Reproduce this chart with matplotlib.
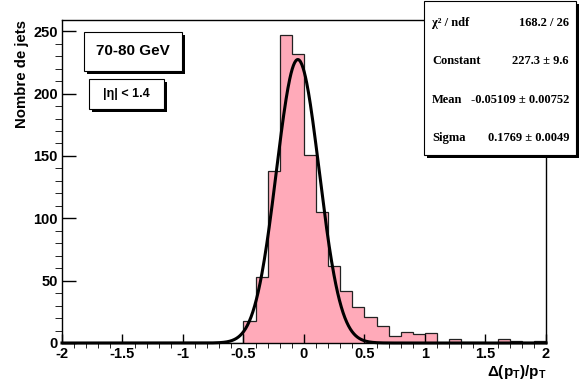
"""Resolution histogram with gaussian fit, ROOT style."""
import matplotlib
matplotlib.use("Agg")
import matplotlib.pyplot as plt
import numpy as np
from matplotlib.patches import Rectangle

plt.rcParams['mathtext.fontset'] = 'custom'
plt.rcParams['mathtext.bf'] = 'Liberation Sans:bold'
plt.rcParams['mathtext.default'] = 'bf'

# data
bin_edges = np.linspace(-2, 2, 41)
counts = [0, 0, 0, 0, 0, 0, 0, 0, 0, 0,
          0, 0, 0, 0, 0, 18, 53, 138, 247, 232,
          151, 105, 62, 42, 29, 21, 14, 6, 9, 7,
          8, 0, 3, 1, 1, 0, 3, 2, 1, 2]
fit_const, fit_mean, fit_sigma = 227.3, -0.05109, 0.1769
stat_labels = ['\u03c7\u00b2 / ndf', 'Constant', 'Mean', 'Sigma']
stat_values = ['168.2 / 26', '227.3 \u00b1 9.6', '-0.05109 \u00b1 0.00752',
               '0.1769 \u00b1 0.0049']
xticks = [-2, -1.5, -1, -0.5, 0, 0.5, 1, 1.5, 2]
xtick_labels = ['-2', '-1.5', '-1', '-0.5', '0', '0.5', '1', '1.5', '2']
yticks = [0, 50, 100, 150, 200, 250]

W, H = 583, 385
pink = '#ffaab9'
sans = 'Liberation Sans'
serif = 'Liberation Serif'


def px(x, y):
    # pixel coords (top-left origin) -> figure fraction
    return x / W, 1 - y / H


def box(x0, y0, x1, y1, shadow=3):
    fig.add_artist(Rectangle(px(x0 + shadow, y1 + shadow),
                             (x1 - x0) / W, (y1 - y0) / H,
                             transform=fig.transFigure, facecolor='black',
                             edgecolor='none', zorder=5))
    fig.add_artist(Rectangle(px(x0, y1), (x1 - x0) / W, (y1 - y0) / H,
                             transform=fig.transFigure, facecolor='white',
                             edgecolor='black', lw=0.8, zorder=6))


fig = plt.figure(figsize=(W / 100, H / 100), dpi=100)
ax = fig.add_axes([62 / W, 1 - 343 / H, (546 - 62) / W, (343 - 20) / H])

ax.stairs(counts, bin_edges, fill=True, facecolor=pink, edgecolor='none')
ax.stairs(counts, bin_edges, color='#222222', lw=0.9)

xf = np.linspace(-2, 2, 800)
yf = fit_const * np.exp(-0.5 * ((xf - fit_mean) / fit_sigma) ** 2)
ax.plot(xf, yf, color='black', lw=2.2, clip_on=False, zorder=4)

ax.set_xlim(-2, 2)
ax.set_ylim(0, 259)
ax.set_xticks(xticks)
ax.set_xticklabels(xtick_labels)
ax.set_xticks(np.arange(-2, 2.01, 0.1), minor=True)
ax.set_yticks(yticks)
ax.set_yticks(np.arange(0, 259, 10), minor=True)
ax.tick_params(axis='both', direction='in', width=1, colors='black')
ax.tick_params(axis='x', which='major', length=6.5, pad=3)
ax.tick_params(axis='x', which='minor', length=3.5)
ax.tick_params(axis='y', which='major', length=10, pad=3)
ax.tick_params(axis='y', which='minor', length=5)
ax.tick_params(top=False, right=False, which='both')
for lab in ax.get_xticklabels() + ax.get_yticklabels():
    lab.set_fontfamily(sans)
    lab.set_fontweight('bold')
    lab.set_fontsize(10.5)
for s in ax.spines.values():
    s.set_linewidth(1)

# axis titles
fig.text(*px(22, 20), 'Nombre de jets', rotation=90, ha='center', va='top',
         fontfamily=sans, fontweight='bold', fontsize=10.8)
fig.text(*px(547, 372), r'$\Delta(p_T)/p_T$', ha='right', va='center',
         fontsize=11)

# text boxes
box(84, 32, 182, 71)
fig.text(*px(133, 51), '70-80 GeV', ha='center', va='center', zorder=7,
         fontfamily=sans, fontweight='bold', fontsize=11)
box(89, 79, 164, 109)
fig.text(*px(126.5, 94), '|\u03b7| < 1.4', ha='center', va='center',
         zorder=7, fontfamily=sans, fontweight='bold', fontsize=9)

# stats box
box(424, 1, 576, 155)
for i, (lab, val) in enumerate(zip(stat_labels, stat_values)):
    yy = 23 + i * 38.3
    fig.text(*px(432, yy), lab, ha='left', va='center', zorder=7,
             fontfamily=serif, fontweight='bold', fontsize=9)
    fig.text(*px(569, yy), val, ha='right', va='center', zorder=7,
             fontfamily=serif, fontweight='bold', fontsize=9)

plt.savefig('out.png', dpi=100)
